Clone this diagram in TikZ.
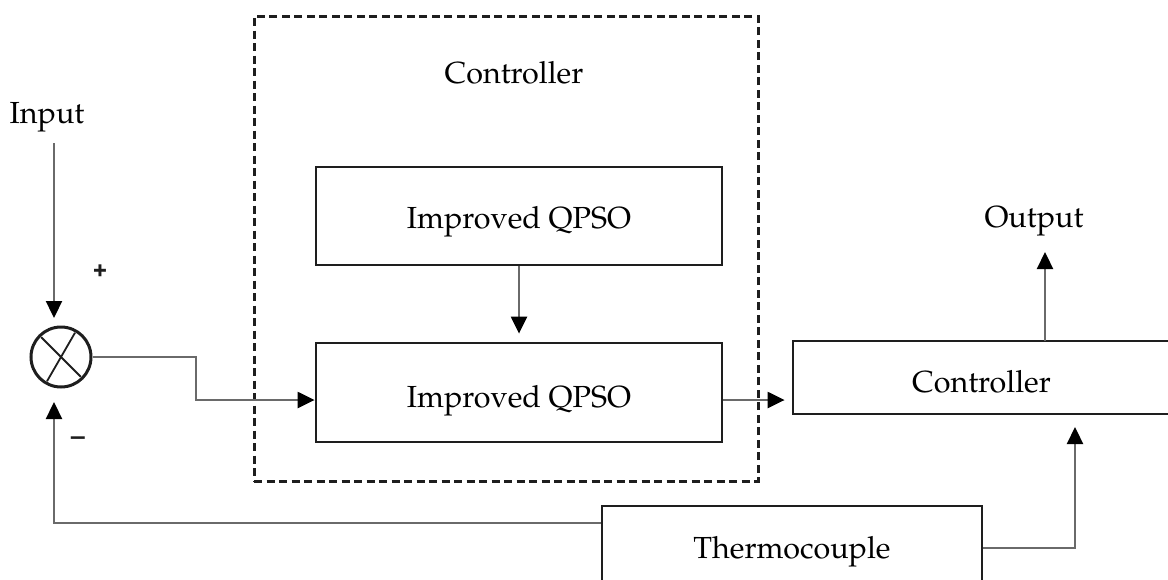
\documentclass[tikz,border=0pt]{standalone}
\usepackage[T1]{fontenc}
\usepackage{mathpazo}
\usepackage[scaled=0.95]{helvet}
\usetikzlibrary{arrows.meta,calc}
\definecolor{boxc}{HTML}{1E1E1E}
\definecolor{linec}{HTML}{6A6A6A}
\newcommand{\lblfont}{\fontsize{30.5}{36}\selectfont}
\begin{document}
\begin{tikzpicture}[x=1pt,y=-1pt,
  blk/.style={draw=boxc, line width=2.8pt, inner sep=0pt, font=\lblfont, text depth=0pt},
  dbox/.style={draw=boxc, line width=3pt, dash pattern=on 8pt off 4.5pt, inner sep=0pt},
  lbl/.style={inner sep=0pt, font=\lblfont},
  sgn/.style={inner sep=0pt, font=\sffamily\bfseries\fontsize{26}{26}\selectfont, text=boxc},
  conn/.style={draw=linec, line width=2.3pt, -{Triangle[length=17pt,width=16pt,color=black]}}]
\useasboundingbox (0,0) rectangle (1168,579);

% containers and blocks
\node[dbox, minimum width=504pt, minimum height=465pt] (grp) at (506,248.5) {};
\node[lbl] (grptitle) at (514,73) {Controller};
\node[blk, text height=24pt, minimum width=406pt, minimum height=98pt] (q1) at (519,216) {Improved QPSO};
\node[blk, text height=29pt, minimum width=406pt, minimum height=99pt] (q2) at (519,392.5) {Improved QPSO};
\node[blk, text height=29pt, minimum width=377pt, minimum height=73pt] (ctrl) at (981.5,377.5) {Controller};
\node[blk, text height=20pt, minimum width=380pt, minimum height=84pt] (thermo) at (792,548) {Thermocouple};

% summing junction
\node[circle, draw=boxc, line width=3pt, minimum size=60pt, inner sep=0pt] (sum) at (61,357) {};
\draw[boxc, line width=1.8pt] ($(sum.center)+(120:28)$) -- ($(sum.center)+(300:28)$);
\draw[boxc, line width=1.8pt] ($(sum.center)+(45:28)$) -- ($(sum.center)+(225:28)$);

% labels
\node[lbl] (inlbl) at (47,117) {Input};
\node[lbl] (outlbl) at (1034,221) {Output};
\node[sgn] (plus) at (100,270) {+};
\node[sgn] (minus) at (78,440) {\textendash};

% coordinates
\coordinate (midline) at (0,400);
\coordinate (inA) at (54,143);
\coordinate (inB) at (54,318);
\coordinate (turn1) at (196,357);
\coordinate (fbtip) at (54,402);
\coordinate (tctip) at (1075,427);
\coordinate (outbase) at (1045,341);
\coordinate (outtip) at (1045,252);

% connectors
\draw[conn] (inA) -- (inB);
\draw[conn] (sum.east) -- (turn1) |- (q2.west |- midline);
\draw[conn, shorten >=8pt] (q1.south) -- (q2.north);
\draw[conn, shorten >=7pt] (q2.east |- midline) -- (ctrl.west |- midline);
\draw[conn] (outbase) -- (outtip);
\draw[conn] (thermo.east) -| (tctip);
\draw[conn] ([yshift=25pt]thermo.west) -| (fbtip);
\end{tikzpicture}
\end{document}
